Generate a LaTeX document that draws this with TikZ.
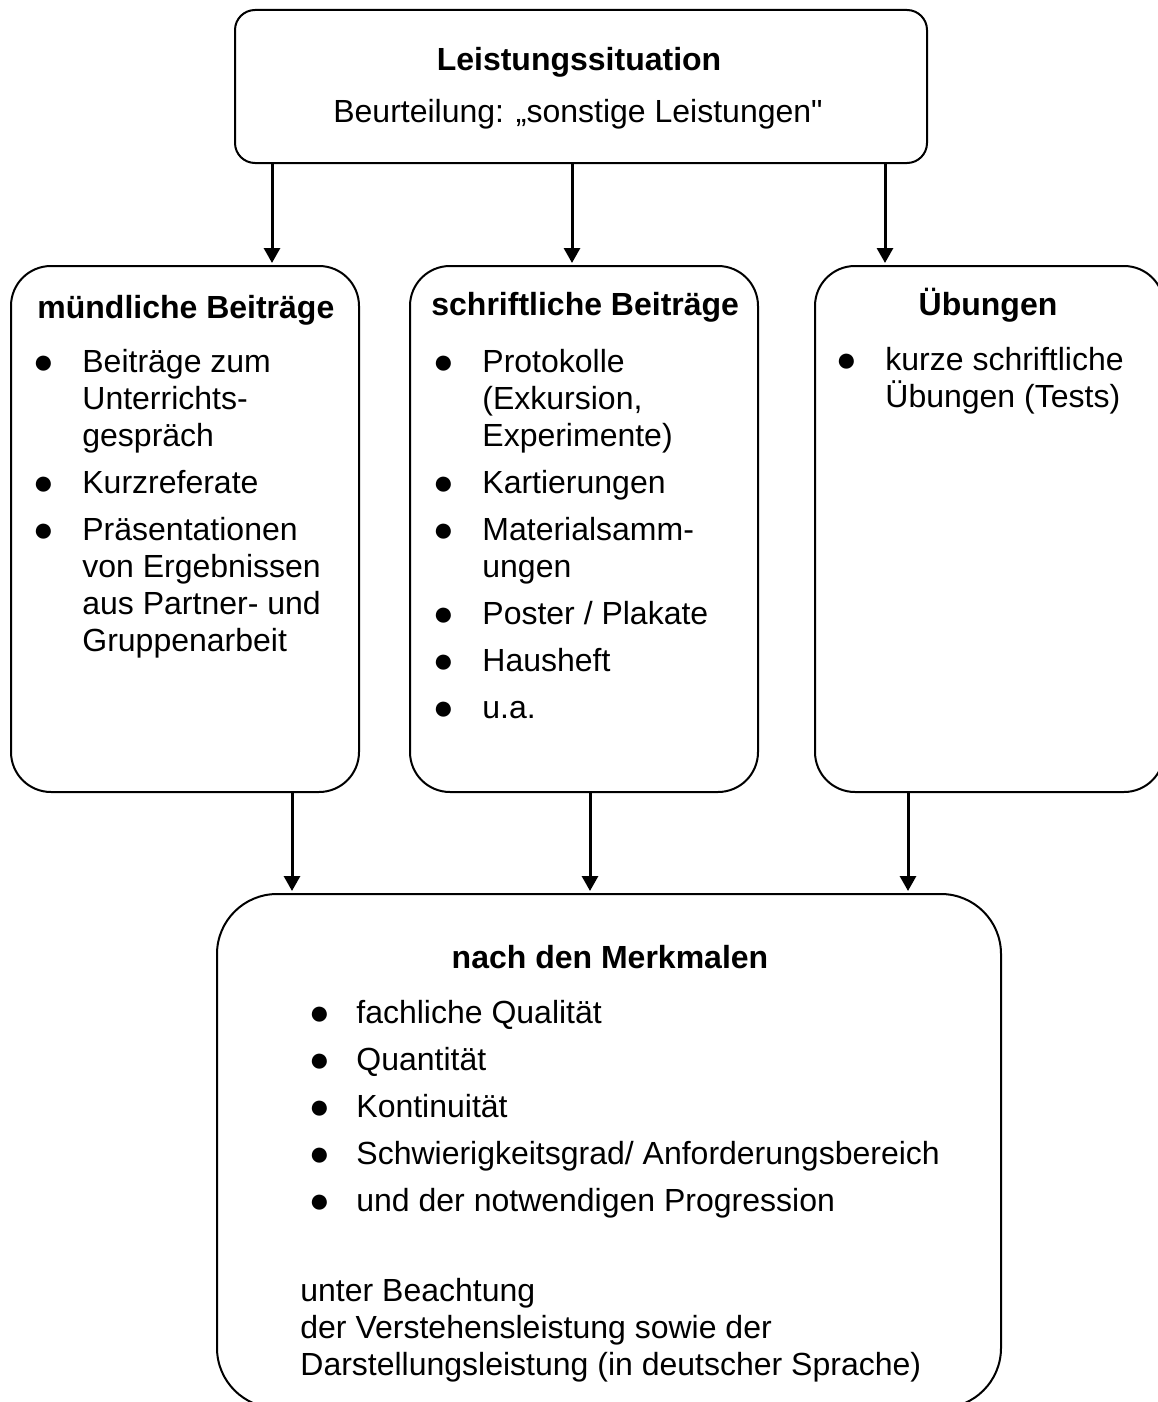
\documentclass[tikz,border=0pt]{standalone}
\usepackage{fontspec}
\setmainfont{Liberation Sans}[Ligatures=TeXOff]
\usetikzlibrary{positioning}
\usetikzlibrary{arrows.meta}
\newcommand{\punkt}{\makebox[6pt]{\raisebox{-0.7pt}{\fontsize{17.5}{0}\selectfont ●}}}

\begin{document}
\begin{tikzpicture}[
x=0.5pt, y=-0.5pt,
font=\fontsize{16}{18.5}\selectfont,
>={Triangle[width=8pt,length=7.5pt]},
topnode/.style={rectangle, draw=black, line width=1pt, rounded corners=10pt, minimum width=346pt, minimum height=76.5pt},
colnode/.style={rectangle, draw=black, line width=1pt, rounded corners=20pt, minimum width=174pt, minimum height=263pt},
basenode/.style={rectangle, draw=black, line width=1pt, rounded corners=30pt, minimum width=392pt, minimum height=257pt},
headnode/.style={inner sep=0pt, font=\fontsize{16}{18.5}\selectfont\bfseries},
txtnode/.style={inner sep=0pt, anchor=base west},
pfeil/.style={->, line width=1.5pt, shorten >=1pt},
]
\useasboundingbox (0,0) rectangle (1157,1402);

%Nodes
\node[topnode]   (situation)   at (581,86.5)  {};
\node[colnode]   (muendlich)   at (185,529)   {};
\node[colnode]   (schriftlich) at (584,529)   {};
\node[colnode, minimum width=174.5pt] (uebungen) at (989.5,529) {};
\node[basenode]  (merkmale)    at (609,1151)  {};

%Texts
\node[headnode, anchor=base] (situationtitel) at (579,71) {Leistungssituation};
\node[txtnode, anchor=base]  (situationtext)  at (578,123) {Beurteilung: „sonstige Leistungen"};

\node[headnode, anchor=base west] (muendlichtitel) at (37,318) {mündliche Beiträge};
\node[txtnode] (muendlichliste) at (37,372) {\begin{tabular}[t]{@{}p{22.5pt}@{}l@{}}
\punkt & Beiträge zum\\ & Unterrichts-\\ & gespräch\\[5pt]
\punkt & Kurzreferate\\[5pt]
\punkt & Präsentationen\\ & von Ergebnissen\\ & aus Partner- und\\ & Gruppenarbeit
\end{tabular}};

\node[headnode, anchor=base west] (schriftlichtitel) at (431,315) {schriftliche Beiträge};
\node[txtnode] (schriftlichliste) at (437,372) {\begin{tabular}[t]{@{}p{22.5pt}@{}l@{}}
\punkt & Protokolle\\ & (Exkursion,\\ & Experimente)\\[5pt]
\punkt & Kartierungen\\[5pt]
\punkt & Materialsamm-\\ & ungen\\[5pt]
\punkt & Poster / Plakate\\[5pt]
\punkt & Hausheft\\[5pt]
\punkt & u.a.
\end{tabular}};

\node[headnode, anchor=base] (uebungentitel) at (988,315) {Übungen};
\node[txtnode] (uebungenliste) at (840,370) {\begin{tabular}[t]{@{}p{22.5pt}@{}l@{}}
\punkt & kurze schriftliche\\ & Übungen (Tests)
\end{tabular}};

\node[headnode, anchor=base] (merkmaletitel) at (610,968) {nach den Merkmalen};
\node[txtnode] (merkmaleliste) at (313,1023) {\begin{tabular}[t]{@{}p{21.5pt}@{}l@{}}
\punkt & fachliche Qualität\\[5pt]
\punkt & Quantität\\[5pt]
\punkt & Kontinuität\\[5pt]
\punkt & Schwierigkeitsgrad/ Anforderungsbereich\\[5pt]
\punkt & und der notwendigen Progression
\end{tabular}};
\node[txtnode] (merkmalezusatz) at (300,1301) {\begin{tabular}[t]{@{}l@{}}
unter Beachtung\\
der Verstehensleistung sowie der\\
Darstellungsleistung (in deutscher Sprache)
\end{tabular}};

%Lines
\coordinate (m1) at ([xshift=43.5pt]muendlich.north);
\coordinate (s1) at ([xshift=-6pt]schriftlich.north);
\coordinate (u1) at ([xshift=-52.25pt]uebungen.north);
\coordinate (m2) at ([xshift=53.5pt]muendlich.south);
\coordinate (s2) at ([xshift=3pt]schriftlich.south);
\coordinate (u2) at ([xshift=-40.75pt]uebungen.south);

\draw[pfeil] (situation.south -| m1) -- (m1);
\draw[pfeil] (situation.south -| s1) -- (s1);
\draw[pfeil] (situation.south -| u1) -- (u1);
\draw[pfeil] (m2) -- (merkmale.north -| m2);
\draw[pfeil] (s2) -- (merkmale.north -| s2);
\draw[pfeil] (u2) -- (merkmale.north -| u2);
\end{tikzpicture}
\end{document}
